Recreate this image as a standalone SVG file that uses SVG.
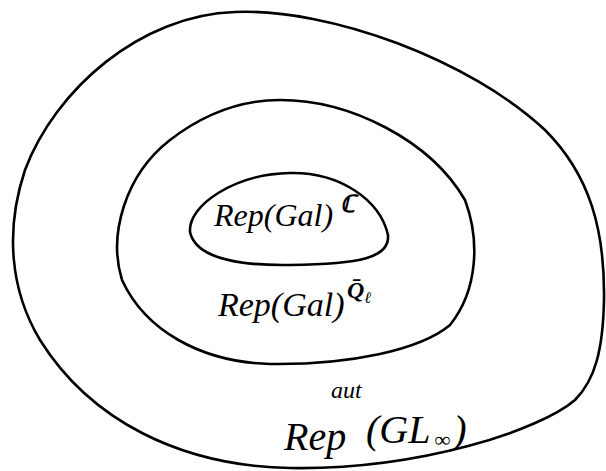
<svg xmlns="http://www.w3.org/2000/svg" width="606" height="471" viewBox="0 0 606 471">
<style>
.curve{fill:none;stroke:#000;stroke-width:2.6;stroke-linejoin:round}
.lbl{font-family:"Liberation Serif","DejaVu Serif",serif;font-style:italic;fill:#000}
</style>
<rect width="606" height="471" fill="#fff"/>
<g id="outer">
<path class="curve" d="M235,12 C330,8 470,60 545,130 C590,175 605,230 604,300 C603,350 595,380 575,400 C540,430 420,470 290,468 C180,466 90,420 40,340 C10,290 5,230 25,170 C55,90 140,15 235,12 Z"/>
<text class="lbl" x="284" y="450" font-size="40">Rep</text>
<text class="lbl" x="331" y="398" font-size="24">aut</text>
<text class="lbl" x="366" y="443" font-size="40">(GL<tspan font-size="22" dx="4" dy="4">∞</tspan><tspan dx="3" dy="-4">)</tspan></text>
</g>
<g id="middle">
<path class="curve" d="M280,100 C350,100 430,140 465,200 C480,240 478,290 450,325 C420,350 350,365 270,364 C200,362 145,330 122,280 C108,235 125,175 170,140 C205,113 240,100 280,100 Z"/>
<text class="lbl" x="218" y="316" font-size="34">Rep(Gal)</text>
<text class="lbl" x="347" y="298" font-size="24" font-weight="bold">Q̄<tspan font-size="16" font-weight="normal" dy="5">ℓ</tspan></text>
</g>
<g id="inner">
<path class="curve" d="M290,173 C340,172 380,200 388,235 C390,258 360,264 290,265 C230,266 195,255 190,232 C188,205 235,174 290,173 Z"/>
<text class="lbl" x="214" y="226" font-size="32">Rep(Gal)</text>
<text class="lbl" x="340" y="212" font-size="24" font-weight="bold" font-style="normal">ℂ</text>
</g>
</svg>
